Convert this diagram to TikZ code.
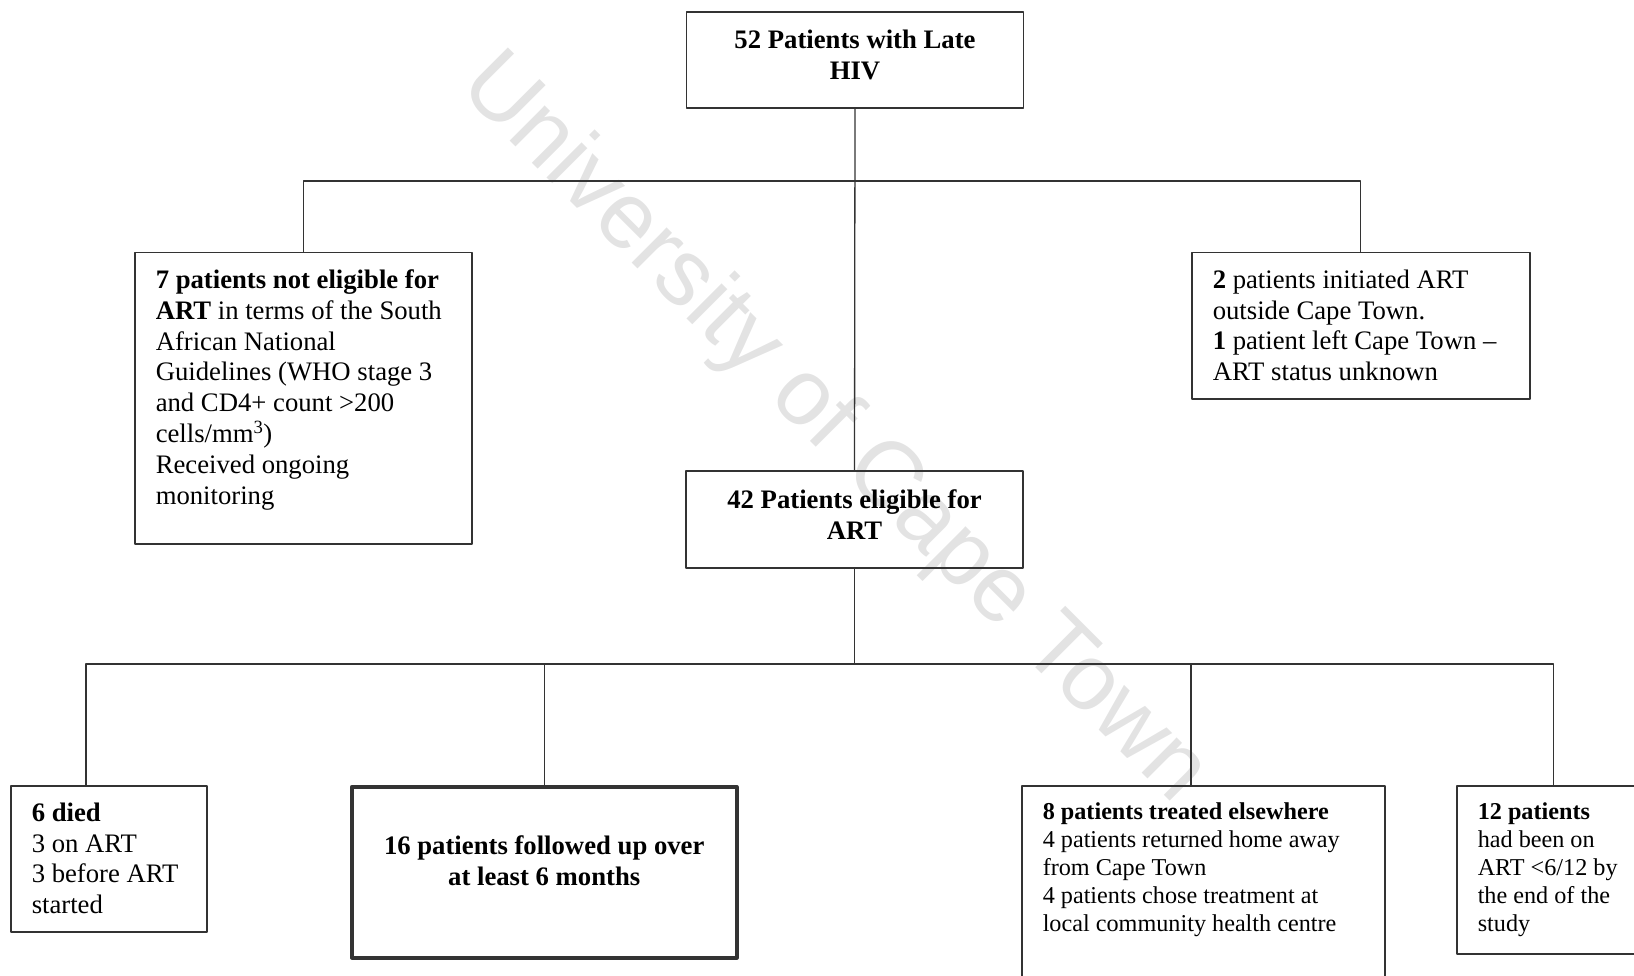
\documentclass[tikz,border=0pt]{standalone}
\usepackage{fontspec}
\setmainfont{Liberation Serif}
\newfontfamily\wmfont{Liberation Sans}
\newcommand{\boxtxt}[3]{\parbox[t][#2][t]{#1}{\vspace*{5pt}#3}}
\begin{document}
\begin{tikzpicture}[x=1pt,y=-1pt,line join=round,
	conn/.style={draw=black!80,line width=1.3pt},
	box/.style={draw=black!80,line width=1.5pt,anchor=north west,inner xsep=21pt,inner ysep=12pt,font=\fontsize{26.7}{30.8}\selectfont},
	smallbox/.style={box,font=\fontsize{24.2}{28.1}\selectfont},
	cbox/.style={draw=black!80,line width=1.5pt,minimum width=337pt,minimum height=96pt,align=center,text depth=10pt,font=\fontsize{26.7}{30.8}\selectfont\bfseries},
	wm/.style={text=black!11,font=\wmfont\fontsize{94}{94}\selectfont}]
	\useasboundingbox (0,0) rectangle (1634,976);
	\node[wm,rotate=-45] (wmark) at (833,430) {University of Cape Town};
	\node[cbox] (hiv) at (855,60) {52 Patients with Late\\HIV};
	\node[cbox,minimum height=97pt] (eligible) at (854.5,519.5) {42 Patients eligible for\\ART};
	\node[box] (noelig) at (134,252) {\boxtxt{295pt}{267pt}{\textbf{7 patients not eligible for}\\
		\textbf{ART} in terms of the South\\ African National\\ Guidelines (WHO stage 3\\ and CD4+ count >200\\
		cells/mm\textsuperscript{3})\\ Received ongoing\\ monitoring}};
	\node[box] (outside) at (1191,252) {\boxtxt{296pt}{122pt}{\textbf{2} patients initiated ART\\ outside Cape Town.\\
		\textbf{1} patient left Cape Town --\\ ART status unknown}};
	\node[box] (died) at (10,785) {\boxtxt{154pt}{122pt}{\textbf{6 died}\\ 3 on ART\\ 3 before ART\\ started}};
	\node[box,line width=3.5pt] (followed) at (350,785) {\boxtxt{343pt}{147pt}{\centering\vspace*{32pt}\bfseries
		16 patients followed up over\\ at least 6 months}};
	\node[smallbox] (elsewhere) at (1021,785) {\boxtxt{321pt}{190pt}{\textbf{8 patients treated elsewhere}\\
		4 patients returned home away\\ from Cape Town\\ 4 patients chose treatment at\\ local community health centre}};
	\node[smallbox] (twelve) at (1456,785) {\boxtxt{152pt}{144pt}{\textbf{12 patients}\\ had been on\\ ART <6/12 by\\ the end of the\\ study}};
	\coordinate (split1) at (855,181);
	\coordinate (d6) at (86,664);
	\coordinate (e8) at (1191,664);
	\draw[conn] (hiv.south) -- (eligible.north);
	\draw[conn] (noelig.north) |- (split1) -| (outside.north);
	\draw[conn] (eligible.south) -- (eligible.south |- d6);
	\draw[conn] (d6 |- died.north) -- (d6) -| (twelve.north);
	\draw[conn] (followed.north) -- (followed.north |- d6);
	\draw[conn] (e8) -- (e8 |- elsewhere.north);
\end{tikzpicture}
\end{document}
